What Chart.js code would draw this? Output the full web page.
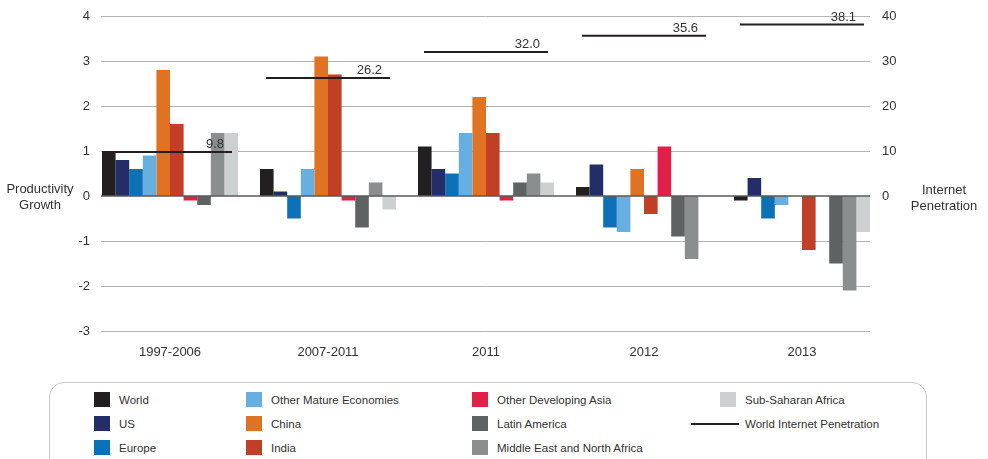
<!DOCTYPE html>
<html>
<head>
<meta charset="utf-8">
<script src="https://cdn.jsdelivr.net/npm/chart.js@4/dist/chart.umd.min.js"></script>
<style>
  html, body { margin: 0; padding: 0; background: #fff; }
  body { width: 988px; height: 459px; position: relative; overflow: hidden;
         font-family: "Liberation Sans", Arial, sans-serif; color: #333; }
  #chart { position: absolute; left: 0; top: 0; }
  .axis-title { position: absolute; width: 80px; text-align: center; font-size: 13px; line-height: 15.5px; color: #333; }
  #legend { position: absolute; left: 49px; top: 382px; width: 878px; height: 100px;
            border: 1px solid #c8c8c8; border-radius: 15px; box-sizing: border-box; }
  .item { position: absolute; font-size: 11.5px; line-height: 16px; color: #333; white-space: nowrap; }
  .swatch { position: absolute; top: 0; width: 16px; height: 15px; }
  .rule { position: absolute; top: 7px; width: 48px; height: 2px; }
</style>
</head>
<body>
<canvas id="chart" width="988" height="371"></canvas>
<div class="axis-title" style="left:0px; top:181px;">Productivity<br>Growth</div>
<div class="axis-title" style="left:904px; top:182px;">Internet<br>Penetration</div>
<div id="legend"></div>
<script>
// Periods on the category axis
const periods = ['1997-2006', '2007-2011', '2011', '2012', '2013'];

// Productivity growth (%) by region
const world        = [1.0,  0.6,  1.1,  0.2, -0.1];
const us           = [0.8,  0.1,  0.6,  0.7,  0.4];
const europe       = [0.6, -0.5,  0.5, -0.7, -0.5];
const otherMature  = [0.9,  0.6,  1.4, -0.8, -0.2];
const china        = [2.8,  3.1,  2.2,  0.6,  0.0];
const india        = [1.6,  2.7,  1.4, -0.4, -1.2];
const otherDevAsia = [-0.1, -0.1, -0.1, 1.1,  0.0];
const latinAmerica = [-0.2, -0.7,  0.3, -0.9, -1.5];
const menaRegion   = [1.4,  0.3,  0.5, -1.4, -2.1];
const subSaharan   = [1.4, -0.3,  0.3,  0.0, -0.8];

// World internet penetration (%)
const internetPenetration = [9.8, 26.2, 32.0, 35.6, 38.1];

// Axis ranges and steps
const growthRange = [-3, 4];
const growthStep = 1;
const penetrationRange = [-30, 40];
const penetrationStep = 10;

const FONT = '"Liberation Sans", Arial, sans-serif';
const SEGMENT_HALF = 62;

function barSet(label, data, color) {
  return { type: 'bar', label, data, backgroundColor: color, borderWidth: 0,
           yAxisID: 'y', barPercentage: 1.0, categoryPercentage: 0.861 };
}

const datasets = [
  barSet('World', world, '#231f20'),
  barSet('US', us, '#232d67'),
  barSet('Europe', europe, '#0b70b5'),
  barSet('Other Mature Economies', otherMature, '#67afe1'),
  barSet('China', china, '#e07224'),
  barSet('India', india, '#c13f27'),
  barSet('Other Developing Asia', otherDevAsia, '#e11f49'),
  barSet('Latin America', latinAmerica, '#5f6263'),
  barSet('Middle East and North Africa', menaRegion, '#8b8e8f'),
  barSet('Sub-Saharan Africa', subSaharan, '#cdd0d1'),
  {
    type: 'line', label: 'World Internet Penetration', data: internetPenetration,
    yAxisID: 'y2', showLine: false, order: -1,
    pointStyle: 'line', pointRadius: SEGMENT_HALF, pointHoverRadius: SEGMENT_HALF,
    pointBorderWidth: 2, pointBorderColor: '#231f20', pointBackgroundColor: '#231f20',
    borderColor: '#231f20', backgroundColor: '#231f20'
  }
];

// Horizontal grid lines behind the bars, zero line on top of them
const GRID_INSET_LEFT = 10, GRID_INSET_RIGHT = 11;
const gridLines = {
  id: 'gridLines',
  beforeDatasetsDraw(chart) {
    const { ctx, chartArea } = chart;
    const y = chart.scales.y;
    ctx.save();
    ctx.strokeStyle = '#b4b4b4';
    ctx.lineWidth = 1;
    y.ticks.forEach(t => {
      if (t.value === 0) return;
      const py = Math.round(y.getPixelForValue(t.value)) + 0.5;
      ctx.beginPath();
      ctx.moveTo(chartArea.left + GRID_INSET_LEFT, py);
      ctx.lineTo(chartArea.right - GRID_INSET_RIGHT, py);
      ctx.stroke();
    });
    ctx.restore();
  },
  afterDatasetsDraw(chart) {
    const { ctx, chartArea } = chart;
    const py = chart.scales.y.getPixelForValue(0);
    ctx.save();
    ctx.strokeStyle = '#5a5a5a';
    ctx.lineWidth = 1.5;
    ctx.beginPath();
    ctx.moveTo(chartArea.left + GRID_INSET_LEFT, py);
    ctx.lineTo(chartArea.right - GRID_INSET_RIGHT, py);
    ctx.stroke();
    ctx.restore();
  }
};

// Value labels above each internet penetration segment
const penetrationLabels = {
  id: 'penetrationLabels',
  afterDatasetsDraw(chart) {
    const idx = chart.data.datasets.length - 1;
    const ds = chart.data.datasets[idx];
    const meta = chart.getDatasetMeta(idx);
    const ctx = chart.ctx;
    ctx.save();
    ctx.font = '13px ' + FONT;
    ctx.fillStyle = '#333';
    ctx.textAlign = 'right';
    ctx.textBaseline = 'alphabetic';
    meta.data.forEach((pt, i) => {
      ctx.fillText(ds.data[i].toFixed(1), pt.x + SEGMENT_HALF - 8, pt.y - 4);
    });
    ctx.restore();
  }
};

const chart = new Chart(document.getElementById('chart'), {
  data: { labels: periods, datasets },
  options: {
    responsive: false,
    devicePixelRatio: 1,
    animation: false,
    events: [],
    layout: { autoPadding: false, padding: { top: 16, bottom: 0, left: 0, right: 0 } },
    plugins: { legend: { display: false }, tooltip: { enabled: false } },
    scales: {
      x: {
        grid: { display: false, drawTicks: false },
        border: { display: false },
        ticks: { padding: 14, color: '#333', font: { family: FONT, size: 13 } },
        afterFit(scale) { scale.height = 40; }
      },
      y: {
        position: 'left',
        min: growthRange[0], max: growthRange[1],
        grid: { display: false, drawTicks: false },
        border: { display: false },
        ticks: { stepSize: growthStep, padding: 1, color: '#333', font: { family: FONT, size: 13 } },
        afterFit(scale) { scale.width = 91; }
      },
      y2: {
        position: 'right',
        min: penetrationRange[0], max: penetrationRange[1],
        grid: { display: false, drawTicks: false },
        border: { display: false },
        ticks: {
          stepSize: penetrationStep, padding: 1, color: '#333', font: { family: FONT, size: 13 },
          callback: v => (v >= 0 ? String(v) : null)
        },
        afterFit(scale) { scale.width = 107; }
      }
    }
  },
  plugins: [gridLines, penetrationLabels]
});

// Legend laid out in columns of three, built from the chart's datasets
const legendEl = document.getElementById('legend');
const textLeft = [119, 271, 497, 745];
const rowCenter = [400, 424, 448];
chart.data.datasets.forEach((ds, i) => {
  const col = Math.floor(i / 3), row = i % 3;
  const item = document.createElement('div');
  item.className = 'item';
  item.style.left = (textLeft[col] - 49 - 1) + 'px';
  item.style.top = (rowCenter[row] - 8 - 382 - 1) + 'px';
  const mark = document.createElement('span');
  if (ds.type === 'line') {
    mark.className = 'rule';
    mark.style.left = '-54px';
    mark.style.background = ds.pointBorderColor;
  } else {
    mark.className = 'swatch';
    mark.style.left = '-25px';
    mark.style.background = ds.backgroundColor;
  }
  item.appendChild(mark);
  item.appendChild(document.createTextNode(ds.label));
  legendEl.appendChild(item);
});
</script>
</body>
</html>
